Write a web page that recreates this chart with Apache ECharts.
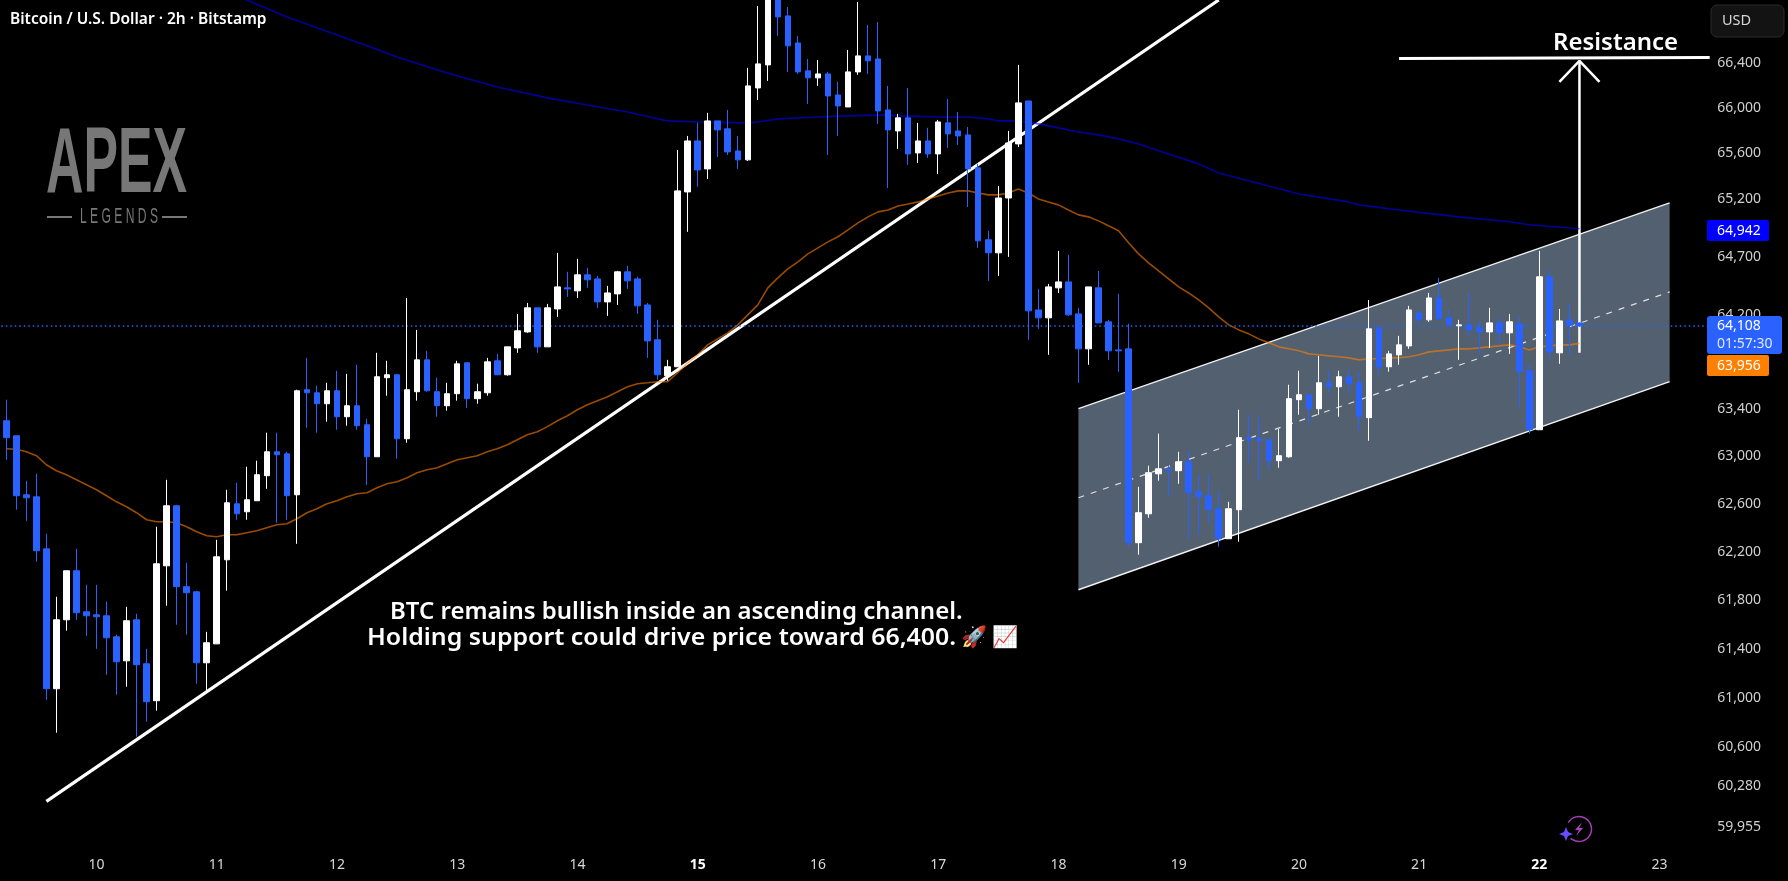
<!DOCTYPE html>
<html><head><meta charset="utf-8"><style>html,body{margin:0;padding:0;background:#000}#c{width:1788px;height:881px}</style>
<script src="https://cdn.jsdelivr.net/npm/echarts@6/dist/echarts.min.js"></script></head><body><div id="c"></div>
<script>
const candles=[
[63298,63155,62969,63476],[63171,62667,62550,63171],[62675,62650,62458,62793],[62658,62208,62117,62851],[62224,61072,60982,62349],
[61072,61637,60714,61827],[61637,62042,61547,62042],[62042,61695,61637,62224],[61703,61670,61505,61926],[61678,61662,61398,61926],
[61670,61489,61186,61786],[61497,61292,61023,61514],[61300,61629,61088,61744],[61637,61268,60682,61687],[61276,60966,60803,61398],
[60974,62100,60893,62408],[62083,62583,61753,62801],[62583,61910,61596,62591],[61910,61860,61514,62108],[61868,61284,61113,61877],
[61284,61448,61039,61538],[61439,62158,61439,62299],[62133,62608,61877,62717],[62600,62516,62466,62776],[62533,62633,62466,62910],
[62625,62843,62625,62961],[62835,63036,62725,63197],[63036,63011,62441,63197],[63019,62667,62466,63036],[62675,63552,62266,63561],
[63561,63535,63239,63832],[63535,63442,63197,63595],[63442,63552,63290,63620],[63552,63332,63222,63722],[63332,63425,63256,63696],
[63425,63256,63222,63773],[63264,62994,62759,63315],[62994,63671,62994,63875],[63663,63688,63510,63807],[63688,63146,62977,63696],
[63146,63561,63112,64345],[63544,63815,63468,64071],[63815,63552,63544,63892],[63544,63425,63332,63663],[63425,63527,63383,63620],
[63527,63781,63468,63807],[63790,63485,63408,63790],[63485,63544,63442,63612],[63535,63798,63510,63832],[63807,63688,63688,63866],
[63688,63926,63680,63926],[63917,64063,63875,64208],[64054,64260,64046,64302],[64260,63926,63875,64260],[63926,64260,63926,64294],
[64251,64440,64182,64734],[64432,64423,64354,64570],[64406,64544,64345,64682],[64544,64501,64432,64604],[64509,64311,64260,64535],
[64311,64388,64191,64449],[64380,64570,64285,64578],[64570,64492,64423,64622],[64509,64277,64208,64527],[64285,63977,63832,64302],
[63986,63688,63646,64157],[63680,63756,63637,63815],[63756,65272,63756,65630],[65263,65709,64916,65753],[65709,65455,65307,65868],
[65464,65885,65376,65956],[65885,65806,65569,65885],[65815,65613,65586,65982],[65621,65543,65464,65753],[65543,66194,65534,66354],
[66176,66389,66070,66905],[66380,67000,66238,67060],[67030,66807,66638,67100],[66816,66549,66318,66896],[66575,66318,66300,66638],
[66327,66265,66035,66433],[66265,66300,66194,66424],[66300,66105,65586,66318],[66114,66017,65753,66229],[66008,66318,66008,66513],
[66318,66460,66292,66940],[66460,66416,66300,66735],[66433,65973,65859,66762],[65982,65806,65298,66194],[65797,65912,65639,65947],
[65912,65595,65499,66176],[65604,65709,65516,65868],[65709,65595,65560,65824],[65595,65876,65420,65894],[65868,65771,65648,66079],
[65797,65753,65674,65964],[65762,65464,65132,65832],[65473,64838,64777,65508],[64847,64734,64492,64925],[64734,65210,64535,65315],
[65210,65691,64699,65797],[65683,66044,65656,66380],[66061,64234,63986,66061],[64242,64174,64080,64423],[64174,64440,63858,64466],
[64432,64483,64388,64751],[64483,64200,64191,64717],[64208,63909,63620,64260],[63909,64440,63773,64440],[64432,64131,64131,64578],
[64140,63892,63815,64157],[63900,63892,63714,64380],[63909,62275,62233,64123],[62275,62525,62175,62742],[62516,62860,62483,62919],
[62851,62893,62793,63189],[62885,62877,62667,62919],[62877,62952,62767,63036],[62952,62692,62308,63045],[62700,62658,62341,62843],
[62667,62550,62441,62851],[62558,62308,62241,62709],[62308,62558,62308,62616],[62550,63155,62283,63391],[63155,63138,62944,63349],
[63146,63129,62801,63332],[63138,62961,62885,63138],[62961,63003,62902,63230],[62994,63485,62986,63603],[63476,63518,63349,63722],
[63518,63400,63264,63518],[63400,63620,63349,63849],[63620,63586,63527,63730],[63586,63671,63332,63722],[63671,63612,63527,63730],
[63620,63332,63214,63714],[63324,64080,63129,64328],[64088,63756,63680,64088],[63756,63866,63714,63892],[63858,63943,63773,64020],
[63934,64242,63909,64277],[64217,64157,64131,64234],[64157,64345,64140,64388],[64345,64165,64165,64518],[64174,64114,64114,64242],
[64106,64114,63815,64157],[64114,64071,64020,64388],[64088,64054,63866,64148],[64054,64131,63917,64260],[64131,64046,63952,64165],
[64046,64140,63866,64208],[64123,63714,63408,64182],[63722,63222,63189,63781],[63222,64527,63222,64751],[64527,63883,63815,64587],
[63875,64148,63781,64251],[64157,64114,63858,64302],[64130,64105,64097,64135]];
const maOrange=[63061,63057,63036,63003,62927,62877,62843,62801,62759,62717,62667,62616,62575,62525,62466,62450,62450,62441,62408,62366,
62333,62325,62341,62341,62358,62375,62400,62425,62433,62475,62525,62558,62600,62625,62658,62683,62692,62734,62767,62784,
62818,62860,62885,62902,62935,62969,62986,63003,63036,63061,63095,63138,63180,63205,63248,63298,63340,63391,63434,63468,
63501,63544,63586,63612,63620,63629,63629,63705,63790,63858,63943,63994,64046,64114,64200,64285,64432,64518,64596,64656,
64725,64777,64829,64873,64933,64994,65046,65089,65106,65141,65158,65176,65202,65228,65254,65272,65272,65254,65237,65237,
65254,65289,65254,65202,65176,65150,65106,65063,65046,65011,64968,64925,64821,64725,64648,64578,64509,64440,64388,64328,
64260,64182,64114,64071,64037,63994,63960,63926,63909,63892,63866,63858,63849,63841,63832,63815,63824,63824,63832,63832,
63841,63858,63883,63892,63900,63909,63909,63917,63926,63934,63943,63926,63900,63926,63934,63943,63943,63956];
const maBlue=[[19.3,67165],[24.3,66958],[28,66807],[36,66549],[39.3,66451],[44.3,66309],[48.6,66185],[54,66088],[58.2,66026],[62,65964],[66,65885],[69.2,65876],[73.5,65868],[74.9,65876],[76.9,65903],[80.9,65920],[84.2,65929],[87.5,65938],[89.2,65929],[92.5,65920],[95.5,65920],[97.5,65903],[99.2,65885],[100.9,65885],[102.5,65859],[104.9,65824],[107.2,65788],[109.2,65762],[110.9,65727],[112.5,65683],[115.8,65595],[119.1,65508],[121.1,65429],[125.8,65315],[129.1,65245],[134.1,65176],[135.1,65150],[139.1,65106],[145.1,65046],[149.8,65003],[152.1,64977],[157,64942]];
const trendLine=[[3.7,60160],[120.8,66958]];
const channelTop=[[107,63400],[166,65167]];
const channelBottom=[[107,61885],[166,63629]];
const channelMid=[[107,62650],[166,64397]];
const resistance=[[138.8,66436],[169.5,66445]];
const arrowShaft=[[157,63875],[157,66415]];
const arrowHead=[[155,66229],[157,66415],[159,66229]];
const lastPrice=64108;
const priceTicks=[66400,66000,65600,65200,64700,64200,63400,63000,62600,62200,61800,61400,61000,60600,60280,59955];
const yMin=59786,yMax=66958;
const N=171,firstDayIdx=9,firstDay=10,boldDays=[15,22];
const categories=Array.from({length:N},(_,i)=>String(firstDay+Math.floor((i-firstDayIdx)/12)));

const F='"Noto Sans",sans-serif';
const LS='"Liberation Sans",sans-serif';
const fmt=v=>Math.round(v).toLocaleString('en-US');
const lineS=(data,color,width,extra)=>Object.assign({type:'line',data,symbol:'none',silent:true,animation:false,z:2,
  lineStyle:{color,width,opacity:1}},extra||{});
const mid=(x,y,text,fill,font,more)=>({type:'text',z:101,x,y,...(more||{}),style:{text,fill,font,verticalAlign:'middle'}});
const chart=echarts.init(document.getElementById('c'),null,{renderer:'canvas'});
chart.setOption({
 animation:false,backgroundColor:'#000',
 grid:{left:1.3,top:0,width:10.02*N,height:848},
 xAxis:{type:'category',data:categories,boundaryGap:true,axisLine:{show:false},axisTick:{show:false},splitLine:{show:false},
  axisLabel:{interval:i=>(i-firstDayIdx)%12===0&&i>=firstDayIdx,margin:10,fontFamily:F,fontSize:14,color:'#d8d8d8',
   formatter:v=>boldDays.includes(+v)?'{b|'+v+'}':v,rich:{b:{fontWeight:'bold',color:'#fff',fontFamily:F,fontSize:14}}}},
 yAxis:{type:'log',logBase:Math.E,min:yMin,max:yMax,position:'right',axisLine:{show:false},axisTick:{show:false},splitLine:{show:false},minorSplitLine:{show:false},
  axisLabel:{customValues:priceTicks,margin:2.5,padding:[3,0,0,0],fontFamily:F,fontSize:14,color:'#d0d0d0',showMinLabel:true,showMaxLabel:true,formatter:v=>fmt(v)}},
 series:[
  {type:'custom',silent:true,animation:false,z:1,data:[[channelTop[0][0],channelTop[0][1],channelTop[1][0],channelTop[1][1],channelBottom[1][0],channelBottom[1][1],channelBottom[0][0],channelBottom[0][1]]],
   encode:{x:0,y:1},
   renderItem:(p,api)=>({type:'polygon',shape:{points:[0,2,4,6].map(k=>api.coord([api.value(k),api.value(k+1)]))},style:{fill:'#52606f',stroke:null}})},
  lineS([],'#2962ff',1.5,{markLine:{silent:true,animation:false,symbol:'none',label:{show:false},lineStyle:{color:'#2962ff',width:1.5,type:[1.5,3],opacity:1},data:[{yAxis:lastPrice}]}}),
  lineS(channelTop,'#f2f2f2',1.4),lineS(channelBottom,'#f2f2f2',1.4),
  lineS(channelMid,'#e0e0e0',1.2,{lineStyle:{color:'#e0e0e0',width:1.2,type:[6,7]}}),
  lineS(trendLine,'#fff',3.2),lineS(resistance,'#fff',3),lineS(arrowShaft,'#fff',2.5),lineS(arrowHead,'#fff',2.5),
  lineS(maBlue,'#0000ff',1.6,{lineStyle:{color:'#0000ff',width:1.6,opacity:.6}}),
  lineS(maOrange,'#ff7f00',1.6,{lineStyle:{color:'#ff7f00',width:1.6,opacity:.6}}),
  {type:'candlestick',data:candles,barWidth:6,z:5,silent:true,animation:false,clip:true,
   itemStyle:{color:'#ffffff',color0:'#2962ff',borderColor:'#ffffff',borderColor0:'#2962ff',borderWidth:1}}
 ],
 graphic:[
  mid(10,20,'Bitcoin / U.S. Dollar · 2h · Bitstamp','#fff','600 15.5px '+F),
  mid(46,166,'APEX','#777','bold 93px '+LS,{scaleX:.557}),
  {type:'rect',z:100,shape:{x:47,y:216,width:25,height:2},style:{fill:'#777'}},
  {type:'rect',z:100,shape:{x:162,y:216,width:25,height:2},style:{fill:'#777'}},
  mid(80,217,'L E G E N D S','#777','22px '+LS,{scaleX:.55}),
  mid(390,612,'BTC remains bullish inside an ascending channel.','#fff','600 24px '+F),
  mid(367,638,'Holding support could drive price toward 66,400.','#fff','600 24px '+F,{scaleX:1.037}),
  mid(961,638,'🚀 📈','#fff','21px '+F),
  mid(1553,43,'Resistance','#fff','600 24px '+F),
  {type:'rect',z:100,shape:{x:1711,y:5,width:73,height:32,r:6},style:{fill:'#131313',stroke:'#2a2a2a',lineWidth:1}},
  mid(1722,21,'USD','#d8d8d8','14.5px '+F),
  {type:'rect',z:100,shape:{x:1707,y:220,width:62,height:21,r:2},style:{fill:'#0000ff'}},
  mid(1717,231,'64,942','#fff','14px '+F),
  {type:'rect',z:100,shape:{x:1707,y:316,width:75,height:38,r:3},style:{fill:'#2962ff'}},
  mid(1717,326,'64,108','#fff','14px '+F),
  mid(1717,344,'01:57:30','#dfe7ff','14px '+F),
  {type:'rect',z:100,shape:{x:1707,y:355,width:62,height:21,r:2},style:{fill:'#ff7f00'}},
  mid(1717,366,'63,956','#fff','14px '+F),
  {type:'arc',z:100,shape:{cx:1579,cy:829,r:12.5,startAngle:-2.6,endAngle:2.3,clockwise:true},style:{fill:null,stroke:'#a63fb5',lineWidth:1.5}},
  {type:'polygon',z:100,shape:{points:[[1582,822],[1575,830],[1579,830],[1576,836],[1583,828],[1579,828]]},style:{fill:'#b044c0'}},
  {type:'polygon',z:100,shape:{points:[[1566,827],[1568,832],[1573,834],[1568,836],[1566,841],[1564,836],[1559,834],[1564,832]]},style:{fill:'#6a4dff'}}
 ]
});
</script></body></html>
